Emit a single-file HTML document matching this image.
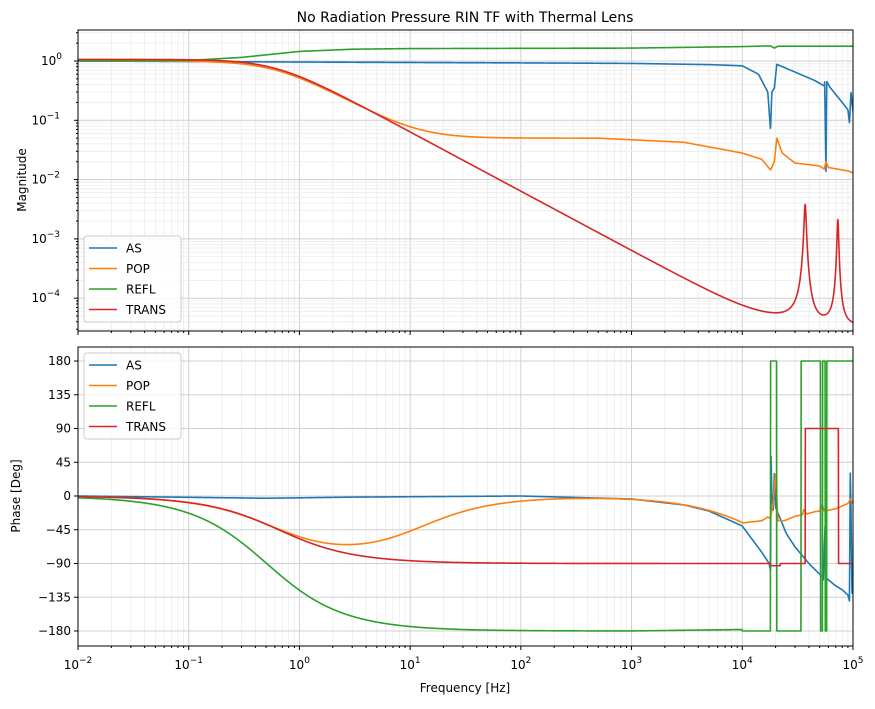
<!DOCTYPE html>
<html><head><meta charset="utf-8"><style>
body{margin:0;background:#fff}
svg text{font-family:"DejaVu Sans","Liberation Sans",sans-serif;fill:#000}
</style></head><body>
<svg id="s" width="875" height="704" xmlns="http://www.w3.org/2000/svg">
<defs>
<clipPath id="c1"><rect x="78" y="30" width="775" height="301"/></clipPath>
<clipPath id="c2"><rect x="78" y="347" width="775" height="299"/></clipPath>
</defs>
<rect width="875" height="704" fill="#fff"/>
<g id="grid"></g>
<g id="lines"></g>
<g id="axes"></g>
<text x="465" y="22" font-size="14" text-anchor="middle">No Radiation Pressure RIN TF with Thermal Lens</text>
<text transform="translate(26,180) rotate(-90)" font-size="12" text-anchor="middle">Magnitude</text>
<text transform="translate(20,496) rotate(-90)" font-size="12" text-anchor="middle">Phase [Deg]</text>
<text x="465" y="692" font-size="12" text-anchor="middle">Frequency [Hz]</text>
<g id="leg"></g>
</svg>
<script>
const NS="http://www.w3.org/2000/svg";
function el(p,t,a,txt){const e=document.createElementNS(NS,t);for(const k in a)e.setAttribute(k,a[k]);if(txt!==undefined)e.textContent=txt;document.getElementById(p).appendChild(e);return e;}
const X=f=>78+(Math.log10(f)+2)*110.71;
const YM=m=>61-Math.log10(m)*59.3;
const YP=p=>496-p*0.75;
for(let d=-2;d<5;d++)for(let k=1;k<10;k++){const x=X(k*Math.pow(10,d));
 el("grid","line",{x1:x,x2:x,y1:30,y2:331,stroke:k==1?"#d0d0d0":"#ececec","stroke-width":k==1?1:0.8});
 el("grid","line",{x1:x,x2:x,y1:347,y2:646,stroke:k==1?"#d0d0d0":"#ececec","stroke-width":k==1?1:0.8});}
for(let d=-5;d<1;d++)for(let k=1;k<10;k++){const y=YM(k*Math.pow(10,d));if(y<30||y>331)continue;
 el("grid","line",{x1:78,x2:853,y1:y,y2:y,stroke:k==1?"#d0d0d0":"#ececec","stroke-width":k==1?1:0.8});}
for(let p=-180;p<=180;p+=45){const y=YP(p);el("grid","line",{x1:78,x2:853,y1:y,y2:y,stroke:"#d0d0d0"});}
function pw(pts,f){if(f<=pts[0][0])return pts[0][1];for(let i=1;i<pts.length;i++){if(f<=pts[i][0]){const a=pts[i-1],b=pts[i];const t=(Math.log(f)-Math.log(a[0]))/(Math.log(b[0])-Math.log(a[0]));return a[1]+(b[1]-a[1])*t;}}return pts[pts.length-1][1];}
function pwl(pts,f){return Math.pow(10,pw(pts.map(p=>[p[0],Math.log10(p[1])]),f));}
const deg=180/Math.PI;
const F=[];for(let i=0;i<=3500;i++)F.push(Math.pow(10,-2+7*i/3500));
const asM=[[0.01,1],[1,0.96],[100,0.93],[1000,0.91],[5000,0.87],[1e4,0.83],[1.4e4,0.6],[1.7e4,0.3],[1.8e4,0.068],[1.85e4,0.3],[1.95e4,0.35],[2.05e4,0.88],[3e4,0.65],[4.5e4,0.47],[5.5e4,0.38],[5.55e4,0.45],[5.7e4,0.013],[5.8e4,0.45],[6.2e4,0.36],[8e4,0.2],[9e4,0.15],[9.3e4,0.09],[9.6e4,0.3],[1e5,0.14]];
const popHi=[[1e4,0.028],[1.5e4,0.022],[1.8e4,0.0145],[1.95e4,0.02],[2.05e4,0.05],[2.3e4,0.028],[3e4,0.019],[5e4,0.017],[5.5e4,0.015],[5.7e4,0.02],[6e4,0.016],[9e4,0.014],[1e5,0.013]];
const grM=[[0.01,1],[0.1,1.02],[0.3,1.15],[1,1.45],[3,1.58],[10,1.62],[1000,1.65],[1e4,1.75],[1.8e4,1.8],[1.95e4,1.65],[2.1e4,1.78],[1e5,1.78]];
function trans(f){const a=1/Math.hypot(1,f/0.6);const fl=3.4e-5;let b=Math.sqrt(a*a+fl*fl);
 const g=(f0,A,w)=>A/(1+((f-f0)/w)**2);
 return b*(1+g(3.7e4,100,800)+g(7.3e4,60,1200));}
function pop(f){const m=Math.hypot(1,f/12)/Math.hypot(1,f/0.6);if(f<1e4)return m*(f<500?1:pwl([[500,1],[3000,0.85],[1e4,0.56]],f));return pwl(popHi,f);}
function popP(f){let p=(Math.atan(f/12)-Math.atan(f/0.6))*deg;
 if(f<1e4)return p-Math.atan(f/1.6e4)*deg*1.1;
 return pw([[1e4,-36],[1.5e4,-33],[1.7e4,-28],[1.8e4,-30],[1.9e4,-10],[2e4,30],[2.1e4,-33],[2.4e4,-33],[3e4,-27],[3.5e4,-25],[3.6e4,-18],[3.8e4,-24],[4.5e4,-21],[5e4,-20],[5.3e4,-12],[5.5e4,-20],[7e4,-17],[9e4,-10],[9.5e4,-4],[1e5,-10]],f);}
const asP=[[0.01,0],[0.5,-3],[3,-1.5],[100,0],[1000,-4],[3000,-12],[5000,-20],[1e4,-40],[1.5e4,-75],[1.75e4,-90],[1.8e4,-100],[1.82e4,55],[1.85e4,0],[1.9e4,-20],[1.95e4,30],[2e4,-15],[2.5e4,-50],[3e4,-68],[4e4,-90],[5.3e4,-108],[5.4e4,-112],[5.5e4,-70],[5.6e4,-40],[5.65e4,-125],[5.8e4,-110],[7e4,-120],[8e4,-125],[9e4,-132],[9.3e4,-140],[9.45e4,35],[9.6e4,-20],[9.8e4,-130],[1e5,-128]];
function grP(f){if(f<1e4)return Math.max(-180,(-Math.atan(f/0.4)-Math.atan(f/0.64))*deg+ (f>1000?2*Math.log10(f/1000):0));
 const s=[[1.8e4,1],[2.05e4,0],[3.4e4,1],[5.1e4,0],[5.3e4,1],[5.6e4,0],[5.8e4,1]];let v=0;for(const q of s)if(f>=q[0])v=q[1];return v?180:-180;}
function trP(f){let p=-Math.atan(f/0.65)*deg;if(f>1.8e4&&f<2.2e4)p-=3;if(f>3.7e4&&f<7.4e4)p=90;return p;}
function path(fn,Y,col,clip,sw){let d="";F.forEach((f,i)=>{const y=Y(fn(f));d+=(i?"L":"M")+X(f).toFixed(2)+","+y.toFixed(2);});
 el("lines","path",{d:d,fill:"none",stroke:col,"stroke-width":sw||1.6,"clip-path":"url(#"+clip+")","stroke-linejoin":"round"});}
const C={AS:"#1f77b4",POP:"#ff7f0e",REFL:"#2ca02c",TRANS:"#d62728"};
path(f=>pwl(asM,f),YM,C.AS,"c1");
path(pop,YM,C.POP,"c1");
path(f=>pwl(grM,f),YM,C.REFL,"c1");
path(trans,YM,C.TRANS,"c1");
path(f=>pw(asP,f),YP,C.AS,"c2");
path(popP,YP,C.POP,"c2");
path(grP,YP,C.REFL,"c2");
path(trP,YP,C.TRANS,"c2");
el("axes","rect",{x:78,y:30,width:775,height:301,fill:"none",stroke:"#000","stroke-width":1});
el("axes","rect",{x:78,y:347,width:775,height:299,fill:"none",stroke:"#000","stroke-width":1});
for(let d=-2;d<=5;d++){for(let k=1;k<10;k++){if(d==5&&k>1)break;const x=X(k*Math.pow(10,d));const L=k==1?4:2;
 el("axes","line",{x1:x,x2:x,y1:331,y2:331+L,stroke:"#000"});el("axes","line",{x1:x,x2:x,y1:646,y2:646+L,stroke:"#000"});}
 const t=el("axes","text",{x:X(Math.pow(10,d)),y:669,"font-size":12,"text-anchor":"middle"},"10");
 const ts=document.createElementNS(NS,"tspan");ts.setAttribute("dy","-6");ts.setAttribute("font-size","9");ts.textContent=d<0?"\u2212"+(-d):d;t.appendChild(ts);}
for(let d=-4;d<=0;d++){const y=YM(Math.pow(10,d));el("axes","line",{x1:74,x2:78,y1:y,y2:y,stroke:"#000"});
 const t=el("axes","text",{x:d<0?60:62,y:y+4,"font-size":12,"text-anchor":"end"},"10");
 const ts=document.createElementNS(NS,"tspan");ts.setAttribute("dy","-6");ts.setAttribute("font-size","9");ts.textContent=d<0?"\u2212"+(-d):"0";t.appendChild(ts);
 for(let k=2;k<10;k++){const yy=YM(k*Math.pow(10,d-1));if(yy<331&&yy>30)el("axes","line",{x1:76,x2:78,y1:yy,y2:yy,stroke:"#000"});}}
for(let k=2;k<4;k++){const yy=YM(k);el("axes","line",{x1:76,x2:78,y1:yy,y2:yy,stroke:"#000"});}
for(let p=-180;p<=180;p+=45){const y=YP(p);el("axes","line",{x1:74,x2:78,y1:y,y2:y,stroke:"#000"});
 el("axes","text",{x:71,y:y+4,"font-size":12,"text-anchor":"end"},p<0?"\u2212"+(-p):""+p);}
function legend(y0){el("leg","rect",{x:84,y:y0,width:97,height:86,rx:3,fill:"#fff","fill-opacity":0.8,stroke:"#ccc"});
 ["AS","POP","REFL","TRANS"].forEach((n,i)=>{const y=y0+12+i*20.5;el("leg","line",{x1:89,x2:117,y1:y,y2:y,stroke:C[n],"stroke-width":1.6});
 el("leg","text",{x:126,y:y+4.5,"font-size":12},n);});}
legend(236);legend(353);
</script>
</body></html>
